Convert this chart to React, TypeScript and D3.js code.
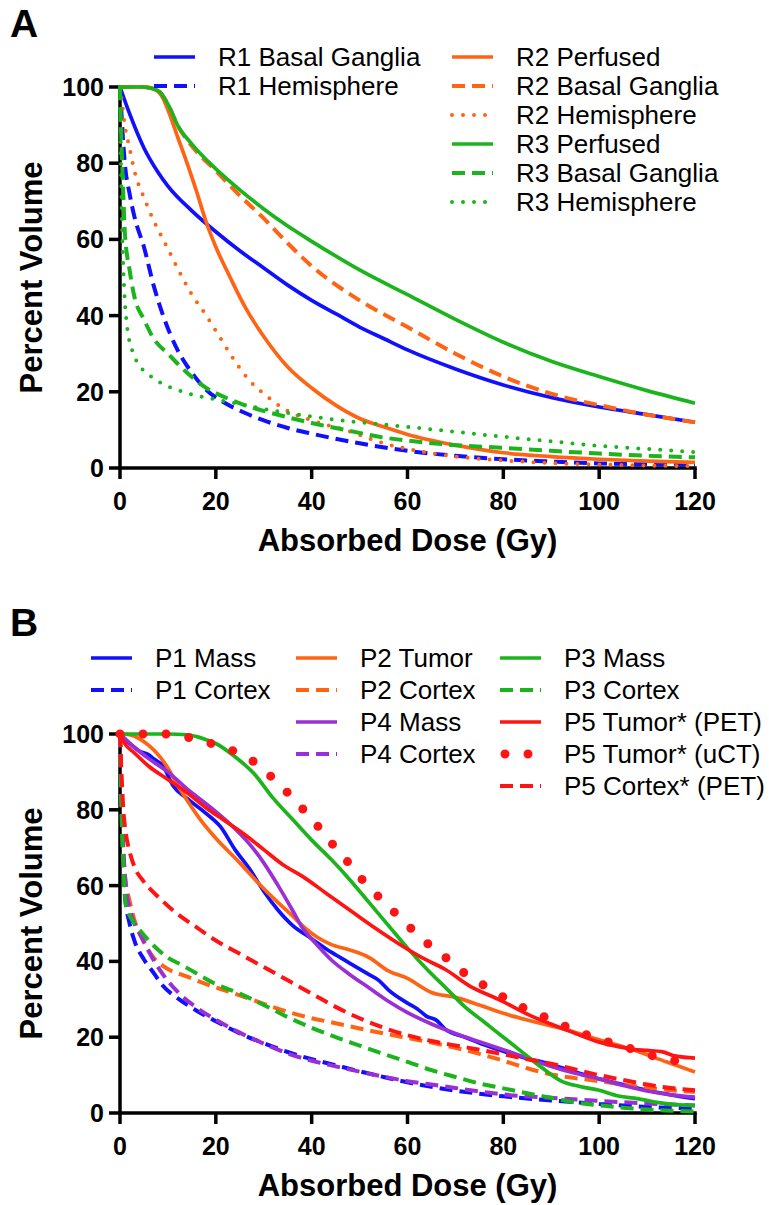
import React from "react";
import * as d3 from "d3";

type Pt = [number, number];

// ---- ticks ----
const doseTicks = [0, 20, 40, 60, 80, 100, 120];
const volumeTicks = [0, 20, 40, 60, 80, 100];

// ---- panel A data (dose Gy, percent volume) ----
const r1BasalGanglia: Pt[] = [[0,100],[2,93],[5,84],[8,77.5],[10,74],[15,67.5],[20,62],[25,57],[30,52.5],[35,48],[40,44],[45,40.5],[50,37],[55,34],[60,31],[70,26],[80,21.8],[90,18.5],[100,16],[110,14],[120,12]];
const r1Hemisphere: Pt[] = [[0,100],[1,80],[2,72],[3,66],[5,58],[7,48],[9,40],[12,31],[15,25],[18,20.5],[22,17],[26,14.5],[30,12.5],[35,10.5],[40,9],[50,6.5],[60,4.5],[70,3.2],[80,2.3],[90,1.7],[100,1.2],[110,1],[120,0.8]];
const r2Perfused: Pt[] = [[0,100],[4,100],[7,99.5],[9,97],[10,94],[12,87],[14,80],[16,72.5],[18,64.5],[20,58],[23,50],[26,42.5],[30,34.5],[35,26.5],[40,21],[45,16.5],[50,13],[55,10.8],[60,8.8],[70,6],[80,4],[90,3],[100,2.3],[110,1.8],[120,1.5]];
const r2BasalGanglia: Pt[] = [[0,100],[5,100],[8,99],[10,95.5],[12,90],[15,84.5],[20,78],[25,71.5],[30,65.5],[35,59],[40,53],[50,44],[60,37],[70,30],[80,24],[90,19.5],[100,16.5],[110,14],[120,12]];
const r2Hemisphere: Pt[] = [[0,100],[0.5,95],[1,90],[2,84],[3,78],[5,71],[7,65],[9,60],[11,55],[13,50],[15,45.5],[18,40],[21,34],[24,28],[27,23],[30,19.5],[35,15],[40,12.5],[47,10],[55,6.5],[60,5],[70,3],[80,2],[90,1.3],[100,0.9],[120,0.5]];
const r3Perfused: Pt[] = [[0,100],[5,100],[8,99],[10,95.5],[12,90],[15,85],[20,78.5],[25,73],[30,68],[35,63.5],[40,59.5],[50,52],[60,45.5],[70,39],[80,33],[90,28],[100,24],[110,20.3],[120,17]];
const r3BasalGanglia: Pt[] = [[0,100],[0.3,85],[0.6,75],[1,62],[2,52],[3,45],[5,39],[7,34],[10,30],[14,25],[18,21],[22,18.5],[26,16.5],[30,15],[36,13],[40,11.8],[47,10],[55,8],[60,7.2],[70,6],[80,5.3],[90,4.5],[100,3.8],[110,3.2],[120,2.8]];
const r3Hemisphere: Pt[] = [[0,100],[0.2,80],[0.4,65],[0.7,52],[1,44],[1.5,37],[2.5,31],[4,27],[6,24.5],[9,22],[12,20.5],[16,19],[20,18],[26,16.5],[30,15.5],[40,13.5],[50,12],[60,10.8],[70,9.5],[80,8.2],[90,7],[100,5.8],[110,5],[120,4.2]];

// ---- panel B data ----
const p1Mass: Pt[] = [[0,100],[2,97.5],[4,95.5],[6,94.5],[7,93.5],[9,91.5],[11,86.5],[14,83],[18,79],[21,75.5],[24,69.5],[27,64.5],[30,58.5],[33,53.5],[36,49.5],[40,46],[44,42.5],[46,41],[48,39.5],[52,36.5],[54,35],[56,32.5],[60,29],[62,27.5],[64,25.5],[66,24.5],[68,22],[72,20],[76,18],[80,16.3],[85,14.3],[88,13.5],[90,12.8],[95,10.8],[100,9],[105,7.5],[110,6],[115,4.8],[120,3.8]];
const p1Cortex: Pt[] = [[0,100],[0.3,82],[0.6,68],[1,58],[2,50],[3,45.5],[5,40.5],[7,37],[9,33.5],[12,30.3],[16,27],[20,24.2],[25,21],[30,18.4],[35,16.1],[40,14.2],[45,12.6],[50,11],[55,9.5],[60,8.1],[65,6.9],[70,5.9],[75,5.1],[80,4.4],[90,3.3],[100,2.4],[110,1.6],[120,1.2]];
const p2Tumor: Pt[] = [[0,100],[2,99.8],[4,98.8],[6,97],[8,94.5],[10,91],[12,86.5],[14,82.5],[17,77],[20,72.5],[25,66],[29,60.5],[33,55.5],[36,52],[38,49.5],[41,46.5],[44,44.5],[48,43],[52,41],[56,37.5],[60,35.5],[65,31.8],[70,30.5],[75,28.5],[80,26.3],[86,24.2],[93,22],[100,19.3],[107,16.7],[114,13.5],[120,10.8]];
const p2Cortex: Pt[] = [[0,100],[0.3,85],[0.6,72],[1,63],[2,56],[3,51],[5,45],[7,41],[10,38],[14,36],[18,34],[22,32.3],[26,30.6],[30,28.8],[35,26.7],[40,25],[45,23.7],[50,22.3],[55,21],[60,19.8],[65,18.6],[70,17.2],[75,15.6],[80,13.8],[85,11.8],[90,10.2],[95,9.2],[100,8.4],[105,7.5],[110,6.7],[115,6],[120,5.6]];
const p3Mass: Pt[] = [[0,100],[5,100],[10,100],[14,99.8],[16,99.3],[18,98.5],[20,97.5],[24,94],[28,89.5],[32,83],[36,77.5],[40,72],[44,67],[48,61.5],[52,55.5],[56,49.5],[60,43.5],[64,38],[68,33],[72,28],[76,24],[80,20],[84,16],[88,12],[92,8.5],[96,7],[100,6],[104,4.5],[108,3.8],[112,2.8],[116,2.2],[120,2]];
const p3Cortex: Pt[] = [[0,100],[0.3,80],[0.7,65],[1.2,55],[2.5,51],[4,48.5],[6,45.5],[8,43],[10,41],[13,39],[16,36.8],[20,34],[25,31.5],[30,28.5],[35,25.3],[40,22.5],[45,20],[50,17.8],[55,15.6],[60,13.5],[65,11.3],[70,9.5],[75,7.8],[80,6.5],[85,5.2],[90,4],[95,2.8],[100,2],[105,1.4],[110,0.9],[115,0.6],[120,0.4]];
const p4Mass: Pt[] = [[0,100],[3,96.5],[6,93.5],[10,90],[14,85.5],[17,82.5],[20,79.5],[24,75],[27,71],[30,66],[33,60],[36,53.5],[38,49],[41,44.5],[44,40.5],[48,36.5],[52,33],[56,29.5],[60,26.5],[65,23.5],[70,21],[75,18.8],[80,16.7],[85,14.5],[90,12.3],[95,10.5],[100,9],[105,7.3],[110,5.8],[115,4.8],[120,4.2]];
const p4Cortex: Pt[] = [[0,100],[0.3,85],[0.7,70],[1.2,60],[2,54],[3,50],[4.5,46.5],[6.5,41.5],[9,36.5],[12,32],[16,27.8],[20,24.6],[25,21.2],[30,18.3],[35,15.7],[40,13.8],[45,12.3],[50,10.9],[55,9.6],[60,8.4],[65,7.5],[70,6.6],[75,5.7],[80,4.9],[90,4],[100,3.2],[110,2.5],[120,2]];
const p5TumorPet: Pt[] = [[0,100],[1,97.5],[3,95],[6,91.5],[10,88],[14,84.5],[18,80.5],[22,77],[26,73.5],[30,69.5],[34,65.5],[38,62.5],[43,58],[48,53.5],[53,49],[58,44.8],[63,41],[68,37.8],[73,33.5],[79,30],[86,25.5],[93,22],[100,18.7],[104,17.5],[107,16.8],[110,16.5],[113,16.2],[116,15],[120,14.5]];
const p5TumorUct: Pt[] = [[0,100],[5,100],[9.7,100],[14.6,99],[19,97.5],[23.7,95.5],[28,92.6],[31.6,88.7],[35,84.5],[38.3,80],[41.4,75.5],[44.5,70.7],[47.7,66],[50.6,61.5],[54,57],[57.4,52.8],[60.9,48.5],[64.3,44.6],[68,41],[71.8,37],[75.8,33.8],[80,30.6],[84.3,27.7],[88.7,25.3],[93.3,22.7],[97.5,20.6],[102,18.7],[106,17.2],[110,15.5],[115,14],[120,13]];
const p5CortexPet: Pt[] = [[0,100],[0.3,90],[0.7,80],[1.2,74],[2,69],[3,65],[5,61],[8,57],[12,52.5],[16,49],[20,45.5],[25,42],[30,38.5],[35,35],[40,31.5],[45,28],[50,25],[55,22.5],[60,20.5],[65,19],[70,17.8],[75,16.7],[80,15.5],[85,14.2],[90,13],[95,11.5],[100,10],[105,8.7],[110,7.5],[115,6.6],[120,6]];

const BLUE = "#1010ff";
const ORANGE = "#ff6414";
const GREEN = "#1cb41c";
const PURPLE = "#9a2fd6";
const RED = "#ff1414";

type Style = "solid" | "dashed" | "dotted" | "bigdot";
interface Series { name: string; data: Pt[]; color: string; style: Style }

const seriesA: Series[] = [
  { name: "R1 Basal Ganglia", data: r1BasalGanglia, color: BLUE, style: "solid" },
  { name: "R1 Hemisphere", data: r1Hemisphere, color: BLUE, style: "dashed" },
  { name: "R2 Perfused", data: r2Perfused, color: ORANGE, style: "solid" },
  { name: "R2 Basal Ganglia", data: r2BasalGanglia, color: ORANGE, style: "dashed" },
  { name: "R2 Hemisphere", data: r2Hemisphere, color: ORANGE, style: "dotted" },
  { name: "R3 Perfused", data: r3Perfused, color: GREEN, style: "solid" },
  { name: "R3 Basal Ganglia", data: r3BasalGanglia, color: GREEN, style: "dashed" },
  { name: "R3 Hemisphere", data: r3Hemisphere, color: GREEN, style: "dotted" },
];

const seriesB: Series[] = [
  { name: "P1 Mass", data: p1Mass, color: BLUE, style: "solid" },
  { name: "P1 Cortex", data: p1Cortex, color: BLUE, style: "dashed" },
  { name: "P2 Tumor", data: p2Tumor, color: ORANGE, style: "solid" },
  { name: "P2 Cortex", data: p2Cortex, color: ORANGE, style: "dashed" },
  { name: "P4 Mass", data: p4Mass, color: PURPLE, style: "solid" },
  { name: "P4 Cortex", data: p4Cortex, color: PURPLE, style: "dashed" },
  { name: "P3 Mass", data: p3Mass, color: GREEN, style: "solid" },
  { name: "P3 Cortex", data: p3Cortex, color: GREEN, style: "dashed" },
  { name: "P5 Tumor* (PET)", data: p5TumorPet, color: RED, style: "solid" },
  { name: "P5 Tumor* (uCT)", data: p5TumorUct, color: RED, style: "bigdot" },
  { name: "P5 Cortex* (PET)", data: p5CortexPet, color: RED, style: "dashed" },
];

const FONT = "'Liberation Sans', Arial, Helvetica, sans-serif";

function strokeProps(style: Style, color: string) {
  switch (style) {
    case "solid":
      return { stroke: color, strokeWidth: 3.7 };
    case "dashed":
      return { stroke: color, strokeWidth: 4, strokeDasharray: "13 7" };
    case "dotted":
      return { stroke: color, strokeWidth: 4, strokeDasharray: "0 11", strokeLinecap: "round" as const };
    case "bigdot":
      return { stroke: color, strokeWidth: 9, strokeDasharray: "0 23", strokeLinecap: "round" as const };
  }
}

interface PanelProps {
  series: Series[];
  top: number; // pixel of 100%
  bottom: number; // pixel of 0%
  letter: string;
  letterY: number;
  legend: { x: number; rows: number[]; items: string[] }[];
}

const Panel = ({ series, top, bottom, letter, letterY, legend }: PanelProps) => {
  const x = d3.scaleLinear().domain([0, 120]).range([120, 695]);
  const y = d3.scaleLinear().domain([0, 100]).range([bottom, top]);
  const line = d3
    .line<Pt>()
    .x((d) => x(d[0]))
    .y((d) => y(d[1]))
    .curve(d3.curveMonotoneX);

  const byName = new Map(series.map((s) => [s.name, s]));

  return (
    <g>
      <text x={10} y={letterY} fontFamily={FONT} fontWeight="bold" fontSize={39}>
        {letter}
      </text>

      {/* axes */}
      <g stroke="#000" strokeWidth={3.5}>
        <line x1={x(0)} x2={x(0)} y1={y(0) + 1.75} y2={y(100) - 1.5} />
        <line x1={x(0) - 1.75} x2={x(120) + 1.75} y1={y(0)} y2={y(0)} />
        {volumeTicks.map((t) => (
          <line key={"yt" + t} x1={x(0) - 11} x2={x(0)} y1={y(t)} y2={y(t)} />
        ))}
        {doseTicks.map((t) => (
          <line key={"xt" + t} x1={x(t)} x2={x(t)} y1={y(0)} y2={y(0) + 11} />
        ))}
      </g>
      <g fontFamily={FONT} fontWeight="bold" fontSize={25}>
        {volumeTicks.map((t) => (
          <text key={"yl" + t} x={x(0) - 16} y={y(t) + 9} textAnchor="end">
            {t}
          </text>
        ))}
        {doseTicks.map((t) => (
          <text key={"xl" + t} x={x(t)} y={y(0) + 42} textAnchor="middle">
            {t}
          </text>
        ))}
      </g>
      <text
        x={(x(0) + x(120)) / 2}
        y={y(0) + 83}
        textAnchor="middle"
        fontFamily={FONT}
        fontWeight="bold"
        fontSize={31}
      >
        Absorbed Dose (Gy)
      </text>
      <text
        transform={`translate(42,${(y(0) + y(100)) / 2}) rotate(-90)`}
        textAnchor="middle"
        fontFamily={FONT}
        fontWeight="bold"
        fontSize={31}
      >
        Percent Volume
      </text>

      {/* curves */}
      {series.map((s) => (
        <path key={s.name} d={line(s.data) ?? ""} fill="none" {...strokeProps(s.style, s.color)} />
      ))}

      {/* legend */}
      {legend.map((col) =>
        col.items.map((name, i) => {
          const s = byName.get(name)!;
          const cy = col.rows[i];
          return (
            <g key={name}>
              <line
                x1={col.x}
                x2={col.x + 41}
                y1={cy}
                y2={cy}
                fill="none"
                {...strokeProps(s.style, s.color)}
                strokeDashoffset={s.style === "bigdot" ? 18 : 0}
              />
              <text x={col.x + 64} y={cy + 9} fontFamily={FONT} fontSize={26}>
                {name}
              </text>
            </g>
          );
        })
      )}
    </g>
  );
};

const rowsA = [57, 86, 115, 144, 173, 202];
const rowsB = [658, 690, 722, 754, 786];

export default function App() {
  return (
    <svg
      width={769}
      height={1205}
      style={{ position: "absolute", left: 0, top: 0, background: "#fff" }}
    >
      <rect width={769} height={1205} fill="#fff" />
      <Panel
        series={seriesA}
        top={87}
        bottom={468}
        letter="A"
        letterY={37}
        legend={[
          { x: 154, rows: rowsA, items: ["R1 Basal Ganglia", "R1 Hemisphere"] },
          {
            x: 452,
            rows: rowsA,
            items: ["R2 Perfused", "R2 Basal Ganglia", "R2 Hemisphere", "R3 Perfused", "R3 Basal Ganglia", "R3 Hemisphere"],
          },
        ]}
      />
      <Panel
        series={seriesB}
        top={734}
        bottom={1113}
        letter="B"
        letterY={636}
        legend={[
          { x: 91, rows: rowsB, items: ["P1 Mass", "P1 Cortex"] },
          { x: 296, rows: rowsB, items: ["P2 Tumor", "P2 Cortex", "P4 Mass", "P4 Cortex"] },
          { x: 500, rows: rowsB, items: ["P3 Mass", "P3 Cortex", "P5 Tumor* (PET)", "P5 Tumor* (uCT)", "P5 Cortex* (PET)"] },
        ]}
      />
    </svg>
  );
}
